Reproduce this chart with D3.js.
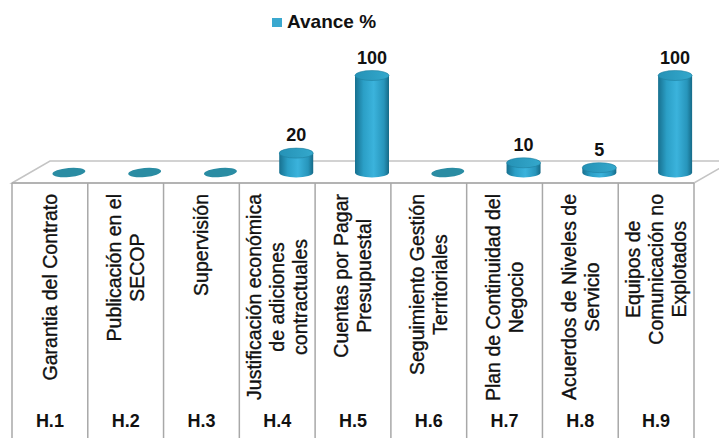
<!DOCTYPE html>
<html>
<head>
<meta charset="utf-8">
<script src="https://cdn.jsdelivr.net/npm/d3@7"></script>
<style>
  body { margin: 0; background: #fff; }
  svg { display: block; font-family: "Liberation Sans", Arial, sans-serif; }
</style>
</head>
<body>
<svg width="719" height="438"></svg>
<script>
// Data
const codes = ['H.1', 'H.2', 'H.3', 'H.4', 'H.5', 'H.6', 'H.7', 'H.8', 'H.9']
const categories = [
  ['Garantia del Contrato'],
  ['Publicación en el', 'SECOP'],
  ['Supervisión'],
  ['Justificación económica', 'de adiciones', 'contractuales'],
  ['Cuentas por Pagar', 'Presupuestal'],
  ['Seguimiento Gestión', 'Territoriales'],
  ['Plan de Continuidad del', 'Negocio'],
  ['Acuerdos de Niveles de', 'Servicio'],
  ['Equipos de', 'Comunicación no', 'Explotados']
]
const avance = [0, 0, 0, 20, 100, 0, 10, 5, 100]
const seriesName = 'Avance %'

const svg = d3.select('svg')

// Layout
let floorFront = 183
let depth = { dx: 38, dy: -22 }
let tableBottom = 438
let textTop = 194

let x = d3.scaleBand()
  .domain(codes)
  .range([12, 694])
  .padding(0)

let h = d3.scaleLinear()
  .domain([0, 100])
  .range([0, 97])

// Gradient for cylinders
let defs = svg.append('defs')
let grad = defs.append('linearGradient')
  .attr('id', 'cyl')
  .attr('x1', '0%').attr('x2', '100%')
grad.append('stop').attr('offset', '0%').attr('stop-color', '#17708f')
grad.append('stop').attr('offset', '25%').attr('stop-color', '#2b9fc6')
grad.append('stop').attr('offset', '55%').attr('stop-color', '#3bb3dc')
grad.append('stop').attr('offset', '85%').attr('stop-color', '#2795bb')
grad.append('stop').attr('offset', '100%').attr('stop-color', '#166a87')

let topGrad = defs.append('linearGradient')
  .attr('id', 'cylTop')
  .attr('x1', '0%').attr('x2', '100%')
topGrad.append('stop').attr('offset', '0%').attr('stop-color', '#2592b6')
topGrad.append('stop').attr('offset', '100%').attr('stop-color', '#34a8cc')

// Floor
let x0 = x.range()[0], x1 = x.range()[1]
svg.append('path')
  .attr('d', `M${x0},${floorFront} L${x0 + depth.dx},${floorFront + depth.dy} L${x1 + depth.dx},${floorFront + depth.dy} L${x1},${floorFront} Z`)
  .attr('fill', '#fff')
  .attr('stroke', '#c4c4c4')
  .attr('stroke-width', 1.5)

// Table grid
svg.append('line')
  .attr('x1', x0).attr('x2', x1)
  .attr('y1', floorFront).attr('y2', floorFront)
  .attr('stroke', '#a8a8a8').attr('stroke-width', 1.5)

let bounds = codes.map(c => x(c)).concat([x1])
svg.selectAll('line.col')
  .data(bounds)
  .enter()
  .append('line')
  .attr('class', 'col')
  .attr('x1', d => d).attr('x2', d => d)
  .attr('y1', floorFront).attr('y2', tableBottom)
  .attr('stroke', '#a8a8a8')
  .attr('stroke-width', 1.5)

// Cylinders
let rx = 17, ry = 5
let baseY = floorFront + depth.dy / 2 + 0.5
let cx = c => x(c) + x.bandwidth() / 2 + depth.dx / 2

let bars = svg.selectAll('g.bar')
  .data(codes.map((c, i) => ({ code: c, value: avance[i] })))
  .enter()
  .append('g')
  .attr('class', 'bar')

bars.filter(d => d.value === 0)
  .append('ellipse')
  .attr('cx', d => cx(d.code))
  .attr('cy', baseY)
  .attr('rx', 16.5)
  .attr('ry', 4.5)
  .attr('fill', '#2a8ca3')
  .attr('transform', d => `rotate(-5,${cx(d.code)},${baseY})`)

let nonZero = bars.filter(d => d.value > 0)

nonZero.append('path')
  .attr('d', d => {
    let c = cx(d.code)
    let top = baseY - h(d.value)
    return `M${c - rx},${top} L${c - rx},${baseY} A${rx},${ry} 0 0 0 ${c + rx},${baseY} L${c + rx},${top} Z`
  })
  .attr('fill', 'url(#cyl)')

nonZero.append('ellipse')
  .attr('cx', d => cx(d.code))
  .attr('cy', d => baseY - h(d.value))
  .attr('rx', rx)
  .attr('ry', ry)
  .attr('fill', 'url(#cylTop)')
  .attr('stroke', '#1f7f9f')
  .attr('stroke-width', 0.6)

// Value labels
nonZero.append('text')
  .attr('x', d => cx(d.code))
  .attr('y', d => baseY - h(d.value) - 12)
  .attr('text-anchor', 'middle')
  .attr('font-size', 18)
  .attr('font-weight', 'bold')
  .attr('fill', '#111')
  .text(d => d.value)

// Category labels (rotated, multi-line)
let fontSize = 19.5
let lineH = 23
let capH = fontSize * 0.716

codes.forEach((c, i) => {
  let lines = categories[i]
  let center = x(c) + x.bandwidth() / 2
  let texts = lines.map((line, j) => svg.append('text')
    .attr('font-size', fontSize)
    .attr('fill', '#111')
    .attr('stroke', '#111')
    .attr('stroke-width', 0.35)
    .attr('text-anchor', 'middle')
    .text(line))
  let maxLen = d3.max(texts, t => t.node().getComputedTextLength())
  let cy = textTop + maxLen / 2
  texts.forEach((t, j) => {
    let bx = center + capH / 2 + (j - (lines.length - 1) / 2) * lineH
    t.attr('transform', `translate(${bx},${cy}) rotate(-90)`)
  })
})

// Code row
svg.selectAll('text.code')
  .data(codes)
  .enter()
  .append('text')
  .attr('class', 'code')
  .attr('x', d => x(d) + x.bandwidth() / 2)
  .attr('y', 427)
  .attr('text-anchor', 'middle')
  .attr('font-size', 18)
  .attr('font-weight', 'bold')
  .attr('fill', '#111')
  .text(d => d)

// Legend
let legend = svg.append('g')
  .attr('class', 'legend')
  .attr('transform', 'translate(272,18)')
legend.append('rect')
  .attr('width', 10)
  .attr('height', 9)
  .attr('fill', '#3aa8cf')
legend.append('text')
  .attr('x', 15)
  .attr('y', 9.5)
  .attr('font-size', 19)
  .attr('font-weight', 'bold')
  .attr('fill', '#111')
  .text(seriesName)
</script>
</body>
</html>
